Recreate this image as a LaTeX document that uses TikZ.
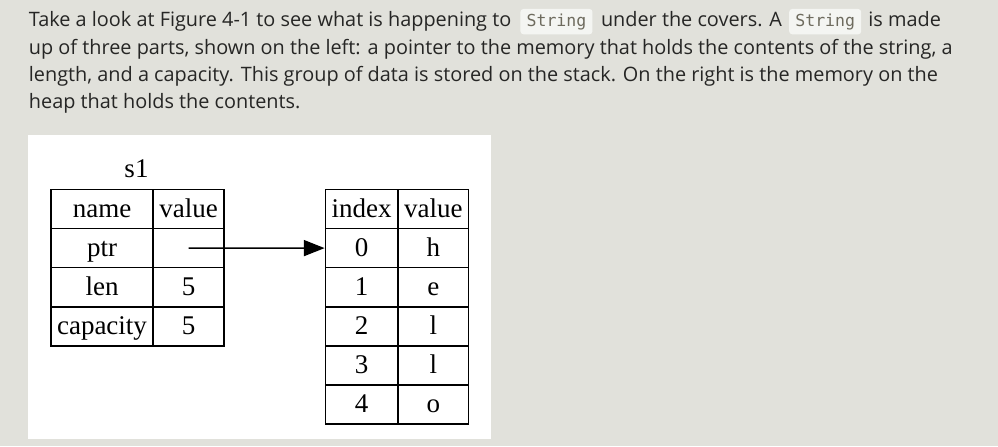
\documentclass[tikz,border=0pt]{standalone}
\usepackage{fontspec}
\setmainfont{Liberation Serif}
\newfontfamily\bodyfont{Open Sans}
\newfontfamily\codefont{DejaVu Sans Mono}
\usetikzlibrary{arrows.meta}
\definecolor{pagebg}{HTML}{E1E1DB}
\definecolor{bodytext}{HTML}{262625}
\definecolor{codetext}{HTML}{6E6B5E}
\definecolor{codebg}{HTML}{F4F5F2}
\begin{document}
\begin{tikzpicture}[x=0.75pt,y=-0.75pt,
  para/.style={anchor=base west, inner sep=0pt, text=bodytext,
    font=\bodyfont\fontsize{14.9pt}{18pt}\selectfont},
  codebox/.style={anchor=base west, inner sep=0pt, fill=codebg, rounded corners=2.25pt,
    text=codetext, minimum width=54pt, text height=13.3pt, text depth=5.7pt,
    font=\codefont\fontsize{12.4pt}{14pt}\selectfont},
  cell/.style={draw=black, line width=1.1pt, inner sep=0pt, minimum height=29.4pt,
    text height=16pt, text depth=3.6pt, font=\fontsize{20.25pt}{24pt}\selectfont},
  ptrarrow/.style={-{Triangle[length=15.5pt,width=12pt]}, line width=1.1pt}
]
\fill[pagebg] (0,0) rectangle (998,446);
\useasboundingbox (0,0) rectangle (998,446);
\fill[white] (28,135) rectangle (491,439);

% paragraph
\node[para] (l1a) at (28.7,26.7) {Take a look at Figure 4-1 to see what is happening to};
\node[codebox] (c1) at ([xshift=6.5pt]l1a.base east) {String};
\node[para] (l1b) at ([xshift=6pt]c1.base east) {under the covers. A};
\node[codebox] (c2) at ([xshift=5pt]l1b.base east) {String};
\node[para] (l1c) at ([xshift=5pt]c2.base east) {is made};
\node[para] (l2) at (28.7,54) {up of three parts, shown on the left: a pointer to the memory that holds the contents of the string, a};
\node[para] (l3) at (28.7,81.4) {length, and a capacity. This group of data is stored on the stack. On the right is the memory on the};
\node[para] (l4) at (28.7,108.6) {heap that holds the contents.};

% s1 table
\node[anchor=base, inner sep=0pt, font=\fontsize{20.25pt}{24pt}\selectfont] (s1) at (136.5,177.3) {s1};
\foreach \r/\n/\v [count=\i from 0] in {0/name/value, 1/ptr/{}, 2/len/5, 3/capacity/5} {
  \node[cell, minimum width=76.5pt] (sn\i) at (102,208.9+39.2*\i) {\n};
  \node[cell, minimum width=53.25pt] (sv\i) at (188.5,208.9+39.2*\i) {\v};
}

% heap table
\node[cell, minimum width=54.5pt] (hi) at (361.65,208.9) {index};
\node[cell, minimum width=53pt] (hv) at (433.35,208.9) {value};
\foreach \v [count=\i from 0] in {h,e,l,l,o} {
  \node[cell, minimum width=54.5pt] (hi\i) at (361.65,248.1+39.1*\i) {\i};
  \node[cell, minimum width=53pt] (hv\i) at (433.35,248.1+39.1*\i) {\v};
}

\draw[ptrarrow] (sv1.center) -- (hi0.west);
\end{tikzpicture}
\end{document}
